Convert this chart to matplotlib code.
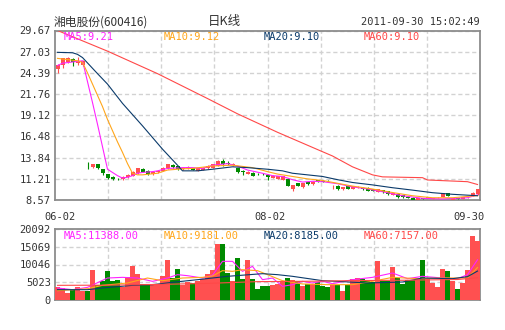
import matplotlib
matplotlib.use("Agg")
import matplotlib.pyplot as plt
import matplotlib.transforms as mtransforms
import numpy as np

# daily candles 2011-06-02 .. 2011-09-30 (85 trading days)
opens = [24.9, 25.4, 25.8, 26.1, 25.6, 25.4, 12.85, 12.7, 13.0, 12.4,
         11.8, 11.45, 11.2, 11.2, 11.4, 11.6, 11.9, 12.45, 12.2, 11.8,
         12.05, 12.2, 12.5, 12.9, 12.8, 12.45, 12.5, 12.5, 12.2, 12.3,
         12.5, 12.6, 12.8, 13.4, 13.2, 12.9, 12.5, 12.17, 11.8, 11.97,
         11.82, 11.82, 11.7, 11.3, 11.22, 11.06, 11.2, 9.9, 10.65, 10.15,
         10.8, 10.5, 11.05, 10.95, 10.92, 10.18, 10.35, 9.9, 10.3, 10.0,
         10.15, 10.1, 10.1, 9.98, 9.6, 9.8, 9.73, 9.2, 9.28, 9.2,
         8.9, 8.85, 8.6, 8.75, 8.85, 8.7, 8.9, 9.0, 9.4, 8.6,
         8.8, 8.75, 8.9, 9.1, 9.3]
highs = [25.5, 26.3, 26.4, 26.2, 26.4, 26.0, 13.3, 13.1, 13.05, 12.45,
         11.85, 11.6, 11.3, 11.55, 11.75, 12.2, 12.6, 12.5, 12.25, 12.2,
         12.2, 12.7, 13.1, 13.0, 12.85, 12.65, 12.75, 12.55, 12.55, 12.65,
         12.9, 13.05, 13.5, 13.7, 13.4, 13.15, 12.55, 12.3, 12.15, 12.0,
         11.9, 11.9, 11.75, 11.65, 11.6, 11.55, 11.25, 10.45, 10.7, 10.7,
         10.85, 10.9, 11.1, 11.0, 11.0, 10.4, 10.4, 10.25, 10.35, 10.35,
         10.3, 10.15, 10.15, 10.0, 9.95, 9.85, 9.75, 9.45, 9.3, 9.25,
         9.0, 8.9, 8.85, 8.8, 9.0, 8.85, 9.0, 9.45, 9.45, 8.85,
         8.85, 8.95, 9.0, 9.55, 9.95]
lows = [24.4, 25.0, 25.6, 25.3, 25.4, 25.3, 12.4, 12.5, 12.45, 11.7,
        11.2, 11.0, 11.05, 11.1, 11.3, 11.5, 11.85, 12.0, 11.65, 11.7,
        11.95, 12.15, 12.45, 12.55, 12.3, 12.35, 12.45, 12.3, 12.15, 12.25,
        12.45, 12.55, 12.75, 12.8, 12.95, 12.85, 11.95, 11.7, 11.75, 11.5,
        11.7, 11.7, 11.1, 11.25, 11.2, 11.0, 10.3, 9.7, 10.3, 10.1,
        10.45, 10.45, 10.75, 10.75, 10.8, 9.95, 9.85, 9.85, 9.95, 9.95,
        10.1, 9.85, 9.7, 9.65, 9.55, 9.45, 9.25, 9.15, 8.85, 8.85,
        8.8, 8.55, 8.58, 8.65, 8.8, 8.65, 8.85, 8.95, 9.05, 8.58,
        8.65, 8.7, 8.85, 9.05, 9.25]
closes = [25.4, 26.2, 26.2, 25.7, 25.9, 25.9, 12.8, 13.0, 12.5, 11.9,
          11.35, 11.2, 11.15, 11.45, 11.7, 12.1, 12.5, 12.1, 11.75, 12.1,
          12.15, 12.6, 13.0, 12.65, 12.4, 12.6, 12.7, 12.35, 12.5, 12.6,
          12.85, 13.0, 13.4, 13.0, 13.0, 13.1, 12.0, 12.0, 12.1, 11.56,
          11.78, 11.78, 11.4, 11.6, 11.56, 11.5, 10.35, 10.4, 10.35, 10.65,
          10.5, 10.85, 10.8, 10.8, 10.88, 10.22, 9.9, 10.2, 10.0, 10.3,
          10.25, 9.9, 9.73, 9.69, 9.9, 9.6, 9.28, 9.4, 8.9, 8.9,
          8.88, 8.6, 8.8, 8.72, 8.95, 8.8, 8.95, 9.4, 9.1, 8.8,
          8.75, 8.9, 8.95, 9.5, 9.9]
volumes = [3580, 3400, 1980, 2920, 3680, 2450, 2450, 8490, 4150, 5280,
           8300, 5470, 5560, 3580, 6510, 9710, 7360, 4530, 4530, 4340,
           4530, 6880, 11410, 6220, 8860, 4150, 5090, 4810, 5280, 5940,
           7360, 8580, 15940, 15940, 7640, 5470, 11880, 5940, 11410, 5940,
           3110, 3870, 4050, 4150, 4530, 5280, 6220, 5750, 5280, 3870,
           4530, 4530, 5090, 3870, 3580, 4340, 4340, 2450, 4340, 5940,
           6220, 5940, 5470, 5090, 10940, 5470, 5280, 9340, 6220, 4530,
           5560, 5750, 6220, 11410, 6220, 4810, 3680, 8770, 8300, 5280,
           3110, 4810, 8580, 18200, 16600]

# moving averages (day index, value)
ma5_days = [0, 1, 5, 6, 7, 8, 9, 10, 11, 12, 13, 14, 15, 16, 17, 19, 20, 22, 25, 27, 29,
            31, 34, 36, 38, 41, 43, 45, 47, 49, 51, 53, 56, 59, 62, 65, 69, 73, 77, 82, 84]
ma5_vals = [25.3, 25.6, 25.9, 23.3, 20.7, 18.0, 15.2, 12.4, 12.0, 11.6, 11.3, 11.4, 11.6, 11.9,
            12.0, 12.1, 12.2, 12.5, 12.6, 12.6, 12.5, 12.9, 13.1, 12.8, 12.3, 11.9, 11.6, 11.5,
            11.1, 10.8, 10.9, 10.85, 10.6, 10.2, 9.95, 9.6, 9.1, 8.78, 8.7, 8.85, 9.21]
ma10_days = [0, 4, 5, 6, 7, 8, 9, 10, 11, 12, 13, 14, 15, 16, 17, 20, 22, 25, 27, 31, 35,
             39, 42, 44, 47, 50, 53, 56, 59, 63, 67, 71, 75, 79, 84]
ma10_vals = [26.2, 25.9, 25.7, 24.4, 23.0, 21.6, 20.2, 18.6, 17.2, 15.8, 14.5, 13.1, 11.9,
             11.7, 11.7, 11.9, 12.3, 12.45, 12.5, 12.8, 12.9, 12.6, 12.1, 11.8, 11.5, 11.2,
             11.0, 10.65, 10.3, 9.94, 9.5, 9.1, 8.85, 8.85, 9.12]
ma20_days = [0, 3, 4, 5, 8, 10, 13, 17, 21, 24, 25, 28, 31, 35, 38, 42, 45, 47, 50, 53, 56,
             59, 63, 67, 71, 75, 79, 84]
ma20_vals = [26.95, 26.9, 26.7, 26.3, 24.3, 23.0, 20.6, 17.8, 14.9, 12.9, 12.2, 12.2, 12.4,
             12.7, 12.6, 12.4, 12.2, 11.9, 11.7, 11.5, 11.1, 10.75, 10.45, 10.1, 9.8, 9.48,
             9.28, 9.1]
ma60_days = [0, 10, 20, 30, 36, 44, 52, 55, 59, 63, 65, 73, 74, 82, 84]
ma60_vals = [29.67, 27.1, 24.3, 21.2, 19.3, 17.0, 14.85, 14.05, 12.7, 11.7, 11.45, 11.35,
             11.06, 10.85, 10.5]

vma5_days = [0, 3, 6, 10, 13, 16, 19, 22, 24, 26, 29, 31, 33, 35, 37, 39, 41, 43, 45, 47,
             49, 51, 53, 55, 59, 63, 67, 70, 73, 77, 80, 82, 84]
vma5_vals = [3400, 2920, 3580, 6220, 6410, 6220, 5280, 6220, 7170, 6880, 6220, 7000, 10940,
             10940, 8110, 9520, 5750, 6220, 3870, 4340, 5280, 4810, 5280, 4620, 5750, 6410,
             7640, 6040, 6700, 6220, 6040, 7170, 11388]
vma10_days = [0, 6, 9, 14, 18, 21, 25, 29, 31, 33, 35, 37, 40, 42, 45, 49, 54, 59, 63, 67,
              72, 77, 82, 84]
vma10_vals = [2640, 3200, 4150, 4810, 6220, 5470, 6220, 6410, 6800, 8300, 8110, 8580, 8300,
              7170, 5470, 4530, 4340, 4340, 5280, 6410, 6040, 6220, 6220, 9181]
vma20_days = [0, 6, 9, 15, 19, 23, 28, 34, 41, 44, 47, 53, 56, 62, 69, 73, 79, 82, 84]
vma20_vals = [2920, 2920, 3400, 4150, 4340, 5000, 5750, 6700, 7450, 7170, 6700, 5470, 5280,
              4810, 5090, 6220, 6040, 6600, 8185]
vma60_days = [0, 10, 20, 30, 40, 50, 60, 70, 80, 84]
vma60_vals = [4150, 4200, 4400, 4700, 5200, 5300, 5500, 5600, 5800, 6300]

price_ticks = [8.57, 11.21, 13.84, 16.48, 19.12, 21.76, 24.39, 27.03, 29.67]
vol_ticks = [0, 5023, 10046, 15069, 20092]
date_labels = ["06-02", "08-02", "09-30"]
date_days = [0, 42, 84]

stock_name = "湘电股份(600416)"
chart_title = "日K线"
time_stamp = "2011-09-30 15:02:49"
price_ma_text = ["MA5:9.21", "MA10:9.12", "MA20:9.10", "MA60:9.10"]
vol_ma_text = ["MA5:11388.00", "MA10:9181.00", "MA20:8185.00", "MA60:7157.00"]

RED = "#ff5050"
GREEN = "#008a00"
MA_COLORS = ["#ff22ff", "#ffa61a", "#0a3a6a", "#ff4848"]
FRAME = "#8c8c8c"
GRID = "#d2d2d2"
MONO = "DejaVu Sans Mono"

fig = plt.figure(figsize=(5.05, 3.30), dpi=100)
ax = fig.add_axes([55 / 505, 130 / 330, 425 / 505, 169.5 / 330])
axv = fig.add_axes([55 / 505, 30 / 330, 425 / 505, 71 / 330])

n = len(closes)
x = np.arange(n)
o = np.array(opens)
c = np.array(closes)
up = c >= o
cols = [RED if u else GREEN for u in up]

# candles
ax.vlines(x, lows, highs, colors=cols, lw=0.8, zorder=3)
body_lo = np.minimum(o, c)
body_h = np.maximum(np.abs(c - o), 0.06)
ax.bar(x, body_h, bottom=body_lo, width=0.8, color=cols, zorder=4, linewidth=0)

for days, vals, col in zip([ma5_days, ma10_days, ma20_days, ma60_days],
                           [ma5_vals, ma10_vals, ma20_vals, ma60_vals], MA_COLORS):
    ax.plot(days, vals, color=col, lw=0.8, zorder=5)

# volume
axv.bar(x, volumes, width=0.85, color=cols, linewidth=0, zorder=3)
for days, vals, col in zip([vma5_days, vma10_days, vma20_days, vma60_days],
                           [vma5_vals, vma10_vals, vma20_vals, vma60_vals], MA_COLORS):
    axv.plot(days, vals, color=col, lw=0.8, zorder=5)

grid_x = [-0.5 + n * k / 8 for k in range(1, 8)]
for a, yt, ylim in [(ax, price_ticks, (price_ticks[0], price_ticks[-1])),
                    (axv, vol_ticks, (vol_ticks[0], vol_ticks[-1]))]:
    a.set_xlim(-0.5, n - 0.5)
    a.set_ylim(*ylim)
    a.set_yticks(yt)
    a.set_yticklabels([f"{v:.2f}" if a is ax else str(v) for v in yt],
                      fontsize=7.5, family=MONO, color="#333333")
    a.set_xticks(grid_x)
    a.set_xticklabels([])
    a.tick_params(length=0, pad=3)
    a.grid(True, color=GRID, lw=1, ls=(0, (3, 2)), zorder=0)
    for s in a.spines.values():
        s.set_color(FRAME)
        s.set_linewidth(1.3)
    a.set_axisbelow(True)

# date labels under price panel
trans = mtransforms.blended_transform_factory(ax.transData, ax.transAxes)
for d, lab in zip(date_days, date_labels):
    ha = "right" if d == date_days[-1] else "center"
    xx = d + 1.4 if ha == "right" else d + 0.5
    ax.text(xx, -0.1, lab, transform=trans, ha=ha, va="center",
            fontsize=7.5, family=MONO, color="#333333")

# MA legends
for k, (t1, t2) in enumerate(zip(price_ma_text, vol_ma_text)):
    xp = (64 + 100 * k) / 505
    fig.text(xp, 1 - 37 / 330, t1, color=MA_COLORS[k], fontsize=7.5, family=MONO, va="center")
    fig.text(xp, 1 - 236 / 330, t2, color=MA_COLORS[k], fontsize=7.5, family=MONO, va="center")

# header
fig.text(54 / 505, 1 - 22 / 330, stock_name, fontsize=8.5, color="#333333",
         family=["Noto Sans CJK SC", "DejaVu Sans"], va="center")
fig.text(224 / 505, 1 - 22 / 330, chart_title, fontsize=9, color="#333333",
         family=["Noto Sans CJK SC", "DejaVu Sans"], va="center", ha="center")
fig.text(480 / 505, 1 - 22 / 330, time_stamp, fontsize=7.5, color="#333333",
         family=MONO, va="center", ha="right")

fig.savefig("out.png", dpi=100, facecolor="white")
